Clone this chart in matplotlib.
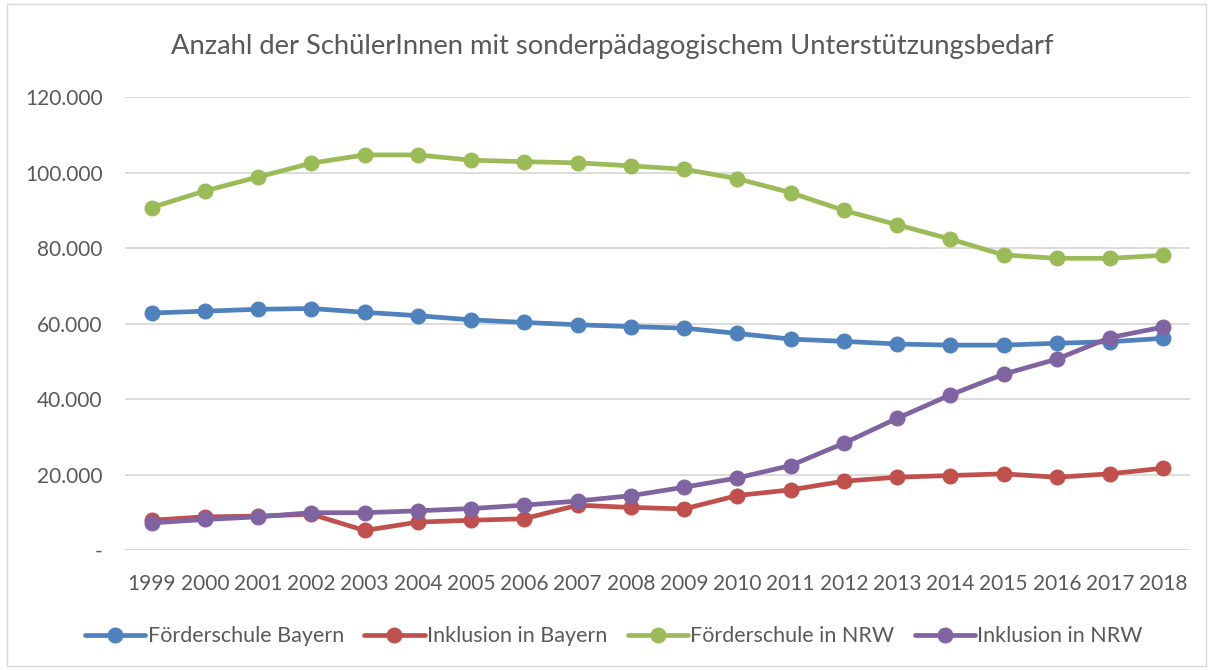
import matplotlib.pyplot as plt
from matplotlib.patches import Rectangle
from matplotlib.ticker import FuncFormatter

# Schuljahre und Werte
jahre = [str(j) for j in range(1999, 2019)]

foerder_bayern = [62800, 63300, 63800, 64000, 63000, 62100, 61000, 60300, 59700, 59200,
                  58800, 57400, 55900, 55300, 54600, 54300, 54300, 54800, 55200, 56100]
inklusion_bayern = [7900, 8800, 9000, 9500, 5200, 7400, 7900, 8300, 11900, 11300,
                    10900, 14450, 15950, 18250, 19300, 19750, 20200, 19300, 20200, 21700]
foerder_nrw = [90750, 95150, 98850, 102500, 104700, 104700, 103300, 102900, 102600, 101800,
               100900, 98400, 94700, 90000, 86200, 82400, 78200, 77300, 77300, 78100]
inklusion_nrw = [7200, 8100, 8800, 9900, 9900, 10400, 11000, 11900, 13000, 14400,
                 16650, 19100, 22400, 28300, 34900, 41100, 46600, 50600, 56300, 59100]

serien = [
    ("Förderschule Bayern", foerder_bayern, "#4F81BD"),
    ("Inklusion in Bayern", inklusion_bayern, "#C0504D"),
    ("Förderschule in NRW", foerder_nrw, "#9BBB59"),
    ("Inklusion in NRW", inklusion_nrw, "#8064A2"),
]

plt.rcParams['font.family'] = ['Lato', 'DejaVu Sans']
grau = "#595959"

fig = plt.figure(figsize=(12.13, 6.70), dpi=100)
ax = fig.add_axes([0.103, 0.179, 0.878, 0.676])

x = range(len(jahre))
for name, werte, farbe in serien:
    ax.plot(x, werte, color=farbe, linewidth=3.4, marker="o", markersize=10.5,
            label=name, solid_capstyle="round", zorder=3)

ax.set_xlim(-0.5, len(jahre) - 0.5)
ax.set_ylim(0, 120000)
ax.set_yticks(range(0, 120001, 20000))
ax.yaxis.set_major_formatter(FuncFormatter(
    lambda v, p: "-" if v == 0 else f"{int(v):,}".replace(",", ".")))
ax.set_xticks(list(x))
ax.set_xticklabels(jahre)
ax.tick_params(axis="both", length=0, labelsize=15, colors=grau)
ax.tick_params(axis="x", pad=17)
ax.tick_params(axis="y", pad=16)
ax.grid(axis="y", color="#D9D9D9", linewidth=1.3)
ax.set_axisbelow(True)
for s in ax.spines.values():
    s.set_visible(False)

fig.text(0.505, 0.93, "Anzahl der SchülerInnen mit sonderpädagogischem Unterstützungsbedarf",
         ha="center", va="center", fontsize=19.7, color=grau)

ax.legend(loc="upper center", bbox_to_anchor=(0.459, -0.125), ncol=4, frameon=False,
          fontsize=15.5, labelcolor=grau, handlelength=2.8, handletextpad=0.1,
          columnspacing=0.95)

fig.patches.append(Rectangle((0.006, 0.006), 0.988, 0.988, transform=fig.transFigure,
                             fill=False, edgecolor="#D9D9D9", linewidth=1))

fig.savefig("out.png", dpi=100)
